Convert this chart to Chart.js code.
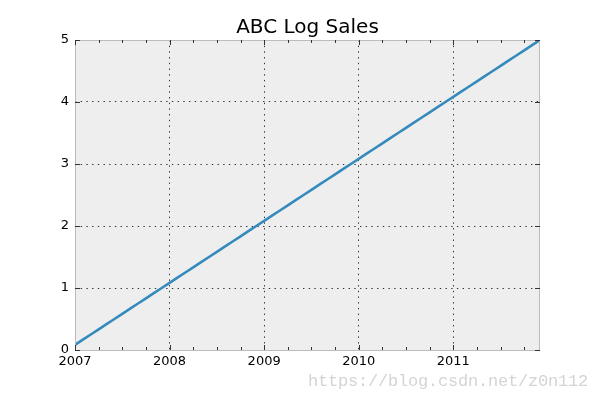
<!DOCTYPE html>
<html>
<head>
<meta charset="utf-8">
<script src="https://cdn.jsdelivr.net/npm/chart.js@4.4.1/dist/chart.umd.min.js"></script>
<style>
  html, body { margin: 0; padding: 0; background: #ffffff; }
  #wrap { position: relative; width: 600px; height: 400px; }
  #watermark {
    position: absolute; left: 308px; top: 372px; line-height: 20px;
    font-family: "Liberation Mono", "DejaVu Sans Mono", monospace;
    font-size: 17px; color: #d6d4d2; white-space: nowrap; letter-spacing: -0.2px;
  }
</style>
</head>
<body>
<div id="wrap">
  <canvas id="c" width="600" height="400"></canvas>
  <div id="watermark">https://blog.csdn.net/z0n112</div>
</div>
<script>
// ---- data ----
const months = [
  "2007-01","2007-02","2007-03","2007-04","2007-05","2007-06","2007-07","2007-08","2007-09","2007-10","2007-11","2007-12",
  "2008-01","2008-02","2008-03","2008-04","2008-05","2008-06","2008-07","2008-08","2008-09","2008-10","2008-11","2008-12",
  "2009-01","2009-02","2009-03","2009-04","2009-05","2009-06","2009-07","2009-08","2009-09","2009-10","2009-11","2009-12",
  "2010-01","2010-02","2010-03","2010-04","2010-05","2010-06","2010-07","2010-08","2010-09","2010-10","2010-11","2010-12",
  "2011-01","2011-02","2011-03","2011-04","2011-05","2011-06","2011-07","2011-08","2011-09","2011-10","2011-11","2011-12"
];
const logSales = [
  0.083,0.167,0.250,0.333,0.417,0.500,0.583,0.667,0.750,0.833,0.917,1.000,
  1.083,1.167,1.250,1.333,1.417,1.500,1.583,1.667,1.750,1.833,1.917,2.000,
  2.083,2.167,2.250,2.333,2.417,2.500,2.583,2.667,2.750,2.833,2.917,3.000,
  3.083,3.167,3.250,3.333,3.417,3.500,3.583,3.667,3.750,3.833,3.917,4.000,
  4.083,4.167,4.250,4.333,4.417,4.500,4.583,4.667,4.750,4.833,4.917,5.000
];
const yearTicks = ["2007","2008","2009","2010","2011"];
const yTicks = [0,1,2,3,4,5];
const titleText = "ABC Log Sales";

// month string -> fractional year
function toYear(s) { const p = s.split("-"); return +p[0] + (+p[1] - 1) / 12; }
const points = months.map((m, i) => ({ x: toYear(m), y: logSales[i] }));
const xMin = toYear(months[0]);
const xMax = toYear(months[months.length - 1]);

const frame = {
  id: 'frame',
  beforeDraw(chart) {
    const a = chart.chartArea, ctx = chart.ctx;
    ctx.save();
    ctx.fillStyle = '#eeeeee';
    ctx.fillRect(a.left, a.top, a.right - a.left, a.bottom - a.top);
    ctx.restore();
  },
  afterDatasetsDraw(chart) {
    const a = chart.chartArea, ctx = chart.ctx;
    const xs = chart.scales.x, ys = chart.scales.y;
    ctx.save();
    ctx.strokeStyle = '#bcbcbc';
    ctx.lineWidth = 1;
    ctx.strokeRect(a.left + 0.5, a.top + 0.5, a.right - a.left - 1, a.bottom - a.top);
    ctx.strokeStyle = '#333333';
    ctx.beginPath();
    // x ticks (major yearly, minor quarterly), inward at bottom and top
    for (let v = xMin; v <= xMax + 1e-9; v += 0.25) {
      const px = Math.round(xs.getPixelForValue(v)) + 0.5;
      const major = Math.abs(v - Math.round(v)) < 1e-6;
      const len = major ? 5 : 3;
      ctx.moveTo(px, a.bottom); ctx.lineTo(px, a.bottom - len);
      ctx.moveTo(px, a.top); ctx.lineTo(px, a.top + len);
    }
    // y ticks inward at left and right
    yTicks.forEach(v => {
      const py = Math.round(ys.getPixelForValue(v)) + 0.5;
      ctx.moveTo(a.left, py); ctx.lineTo(a.left + 5, py);
      ctx.moveTo(a.right, py); ctx.lineTo(a.right - 5, py);
    });
    ctx.stroke();
    ctx.restore();
  }
};

new Chart(document.getElementById('c'), {
  type: 'line',
  data: {
    datasets: [{
      data: points,
      borderColor: '#348ABD',
      borderWidth: 2.5,
      pointRadius: 0,
      fill: false,
      tension: 0
    }]
  },
  options: {
    responsive: false,
    animation: false,
    layout: { padding: { left: 15, right: 0, top: 0, bottom: 0 } },
    plugins: {
      legend: { display: false },
      tooltip: { enabled: false },
      title: {
        display: true, text: titleText, color: '#000',
        font: { family: 'DejaVu Sans', size: 20, weight: 'normal' },
        padding: { top: 16, bottom: 0 }
      }
    },
    scales: {
      x: {
        type: 'linear', min: xMin, max: xMax,
        afterFit(s) { s.height = 50; },
        afterBuildTicks(s) { s.ticks = yearTicks.map(t => ({ value: +t })); },
        ticks: {
          color: '#000', padding: 4, maxRotation: 0,
          font: { family: 'DejaVu Sans', size: 13 },
          callback: v => String(v)
        },
        grid: { color: '#333', lineWidth: 1, drawTicks: false },
        border: { display: false, dash: [1.4, 4.3] }
      },
      y: {
        min: 0, max: 5,
        afterFit(s) { s.width = 60; },
        afterBuildTicks(s) { s.ticks = yTicks.map(t => ({ value: t })); },
        ticks: {
          color: '#000', padding: 6,
          font: { family: 'DejaVu Sans', size: 13 }
        },
        grid: { color: '#333', lineWidth: 1, drawTicks: false },
        border: { display: false, dash: [1.4, 4.3] }
      },
      y2: {
        position: 'right', min: 0, max: 5,
        afterFit(s) { s.width = 60; },
        ticks: { display: false },
        grid: { display: false },
        border: { display: false }
      }
    }
  },
  plugins: [frame]
});
</script>
</body>
</html>
